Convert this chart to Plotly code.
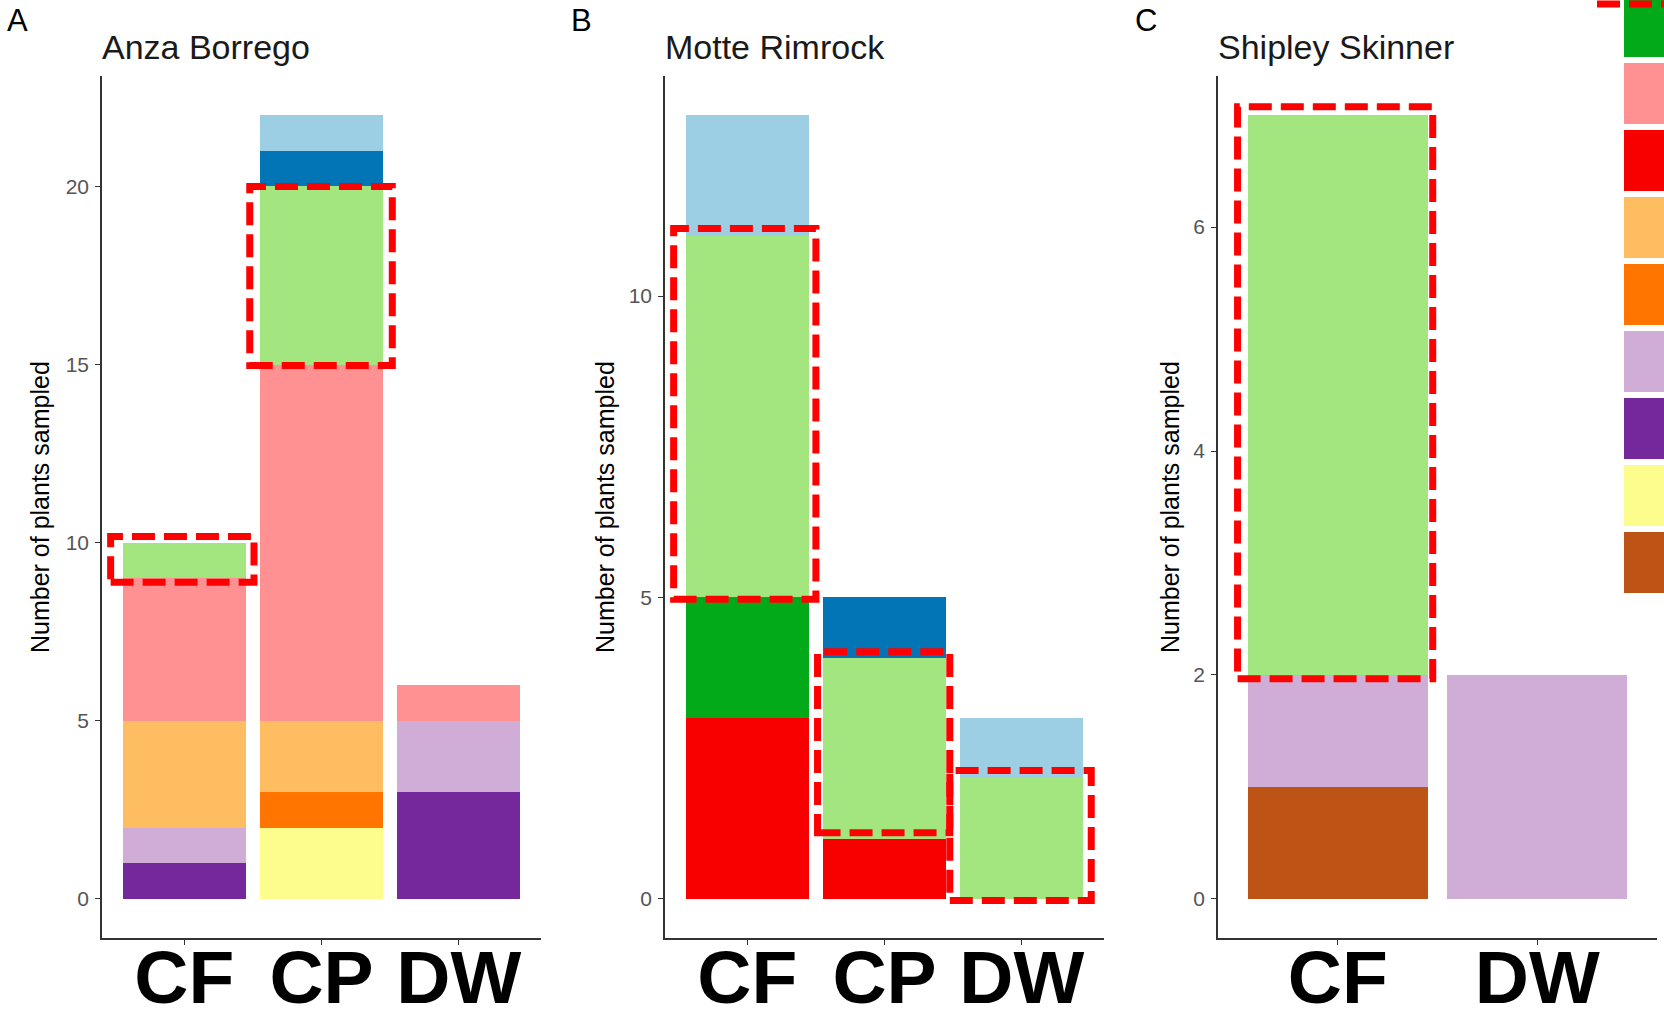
import plotly.graph_objects as go

W, H = 1664, 1009
OFF = 0  # body margin removed in the page (see post_script)

# ---------------- data ----------------
sites = ["Anza Borrego", "Motte Rimrock", "Shipley Skinner"]
panel_letters = ["A", "B", "C"]
y_title = "Number of plants sampled"

cats_anza = ["CF", "CP", "DW"]
cats_motte = ["CF", "CP", "DW"]
cats_shipley = ["CF", "DW"]

# colour groups in legend order (top to bottom)
groups = ["light blue", "dark blue", "light green", "dark green", "pink", "red",
          "light orange", "orange", "lilac", "purple", "yellow", "brown"]
group_colors = ["#9DCFE4", "#0175B6", "#A3E680", "#02A919", "#FF9192", "#F90000",
                "#FFBD62", "#FF7500", "#D0ADD6", "#74289C", "#FDFD8D", "#BE5316"]

# Anza Borrego counts (CF, CP, DW)
anza_yellow = [0, 2, 0]
anza_purple = [1, 0, 3]
anza_lilac = [1, 0, 2]
anza_orange = [0, 1, 0]
anza_light_orange = [3, 2, 0]
anza_pink = [4, 10, 1]
anza_light_green = [1, 5, 0]
anza_dark_blue = [0, 1, 0]
anza_light_blue = [0, 1, 0]

# Motte Rimrock counts (CF, CP, DW)
motte_red = [3, 1, 0]
motte_dark_green = [2, 0, 0]
motte_light_green = [6, 3, 2]
motte_dark_blue = [0, 1, 0]
motte_light_blue = [2, 0, 1]

# Shipley Skinner counts (CF, DW)
shipley_brown = [1, 0]
shipley_lilac = [1, 2]
shipley_light_green = [5, 0]

anza_ticks = [0, 5, 10, 15, 20]
motte_ticks = [0, 5, 10]
shipley_ticks = [0, 2, 4, 6]

# highlighted (red dashed) light-green segments per panel
highlight_group = "light green"
anza_highlight = ["CF", "CP"]
motte_highlight = ["CF", "CP", "DW"]
shipley_highlight = ["CF"]

# ---------------- assemble ----------------
panels = [
    dict(cats=cats_anza, ticks=anza_ticks, highlight=anza_highlight,
         series={"yellow": anza_yellow, "purple": anza_purple, "lilac": anza_lilac,
                 "orange": anza_orange, "light orange": anza_light_orange,
                 "pink": anza_pink, "light green": anza_light_green,
                 "dark blue": anza_dark_blue, "light blue": anza_light_blue},
         # hand-drawn box offsets (left, right, bottom, top) in data units
         pads=[(-0.087, 0.058, -0.11, 0.17), (-0.073, 0.066, -0.03, 0.0)]),
    dict(cats=cats_motte, ticks=motte_ticks, highlight=motte_highlight,
         series={"red": motte_red, "dark green": motte_dark_green,
                 "light green": motte_light_green, "dark blue": motte_dark_blue,
                 "light blue": motte_light_blue},
         pads=[(-0.087, 0.05, -0.03, 0.12), (-0.038, 0.026, 0.094, 0.10),
               (-0.074, 0.057, -0.028, 0.127)]),
    dict(cats=cats_shipley, ticks=shipley_ticks, highlight=shipley_highlight,
         series={"brown": shipley_brown, "lilac": shipley_lilac,
                 "light green": shipley_light_green},
         pads=[(-0.052, 0.026, -0.034, 0.075)]),
]

stack_order = list(reversed(groups))  # bottom -> top
color_of = dict(zip(groups, group_colors))

FONT = "Liberation Sans, Arial, sans-serif"

# panel plot areas in page pixels (left, right)
px_left = [102, 665, 1218]
px_right = [541, 1104, 1657]
px_top, px_bottom = 76, 938


def px2x(p):
    return (p - OFF) / W


def px2y(p):
    return 1 - (p - OFF) / H


fig = go.Figure()
shapes = []
annotations = []
BAR_W = 0.9

for i, pan in enumerate(panels):
    xa = "x" if i == 0 else f"x{i+1}"
    ya = "y" if i == 0 else f"y{i+1}"
    ncat = len(pan["cats"])
    xs = list(range(ncat))
    for g in stack_order:
        if g in pan["series"]:
            fig.add_trace(go.Bar(
                x=xs, y=pan["series"][g], width=BAR_W, name=g,
                marker=dict(color=color_of[g], line=dict(width=0)),
                xaxis=xa, yaxis=ya, showlegend=False))
    total = [sum(pan["series"][g][k] for g in pan["series"]) for k in range(ncat)]
    ymax = max(total)
    ax_suffix = "" if i == 0 else str(i + 1)
    fig.layout["xaxis" + ax_suffix] = dict(
        domain=[px2x(px_left[i]), px2x(px_right[i])], anchor=ya,
        range=[-0.6, ncat - 0.4], tickvals=xs, ticktext=pan["cats"],
        showline=True, linecolor="#333333", linewidth=1.6,
        ticks="outside", ticklen=5, tickwidth=1.4, tickcolor="#333333",
        tickfont=dict(family=FONT, size=75, color="black", weight="bold"),
        ticklabelstandoff=-32,
        showgrid=False, zeroline=False, fixedrange=True, automargin=False)
    fig.layout["yaxis" + ax_suffix] = dict(
        domain=[px2y(px_bottom), px2y(px_top)], anchor=xa,
        range=[-0.05 * ymax, 1.05 * ymax], tickvals=pan["ticks"],
        showline=True, linecolor="#333333", linewidth=1.6,
        ticks="outside", ticklen=5, tickwidth=1.4, tickcolor="#333333",
        tickfont=dict(family=FONT, size=21, color="#555555"),
        ticklabelstandoff=2,
        showgrid=False, zeroline=False, fixedrange=True, automargin=False)

    # highlight boxes around the light-green segment
    for j, cat in enumerate(pan["highlight"]):
        k = pan["cats"].index(cat)
        below = 0
        for g in stack_order:
            if g == highlight_group:
                break
            if g in pan["series"]:
                below += pan["series"][g][k]
        top = below + pan["series"][highlight_group][k]
        pl, pr, pb, pt = pan["pads"][j]
        shapes.append(dict(
            type="rect", xref=xa, yref=ya, layer="above",
            x0=k - BAR_W / 2 + pl, x1=k + BAR_W / 2 + pr,
            y0=below + pb, y1=top + pt,
            line=dict(color="#FF0000", width=7, dash="23px,9px"),
            fillcolor="rgba(0,0,0,0)"))

    # panel title
    annotations.append(dict(
        text=sites[i], xref="paper", yref="paper",
        x=px2x(px_left[i] - 2), y=px2y(47), xanchor="left", yanchor="middle",
        showarrow=False, font=dict(family=FONT, size=34, color="#1A1A1A")))
    # panel letter
    letter_x = [5, 569, 1133][i]
    annotations.append(dict(
        text=panel_letters[i], xref="paper", yref="paper",
        x=px2x(letter_x), y=px2y(21), xanchor="left", yanchor="middle",
        showarrow=False, font=dict(family=FONT, size=31, color="black")))
    # y-axis title
    ytitle_x = [40, 605, 1170][i]
    annotations.append(dict(
        text=y_title, xref="paper", yref="paper", textangle=-90,
        x=px2x(ytitle_x), y=px2y((px_top + px_bottom) / 2),
        xanchor="center", yanchor="middle", showarrow=False,
        font=dict(family=FONT, size=25, color="black")))

# partial legend (keys only, text cut off at the image edge)
key_size, key_pitch = 61, 67
key_left = 1624
first_top = -4 - 3 * key_pitch
for k, c in enumerate(group_colors):
    t = first_top + k * key_pitch
    shapes.append(dict(
        type="rect", xref="paper", yref="paper", layer="above",
        x0=px2x(key_left), x1=px2x(key_left + key_size),
        y0=px2y(t + key_size), y1=px2y(t),
        line=dict(width=0), fillcolor=c))
# dashed highlight around the light-green key
lg = groups.index(highlight_group)
t = first_top + lg * key_pitch
shapes.append(dict(
    type="rect", xref="paper", yref="paper", layer="above",
    x0=px2x(key_left - 27), x1=px2x(key_left + key_size + 30),
    y0=px2y(t + key_size + 14), y1=px2y(t - 14),
    line=dict(color="#FF0000", width=7, dash="23px,9px"),
    fillcolor="rgba(0,0,0,0)"))

fig.update_layout(
    template="none",
    width=W, height=H, autosize=False,
    margin=dict(l=0, r=0, t=0, b=0, autoexpand=False),
    paper_bgcolor="white", plot_bgcolor="white",
    barmode="stack", bargap=0,
    shapes=shapes, annotations=annotations,
    font=dict(family=FONT),
)

fig.write_html(
    "out.html",
    config={"displayModeBar": False},
    post_script="document.body.style.margin='0';document.body.style.overflow='hidden';",
)
